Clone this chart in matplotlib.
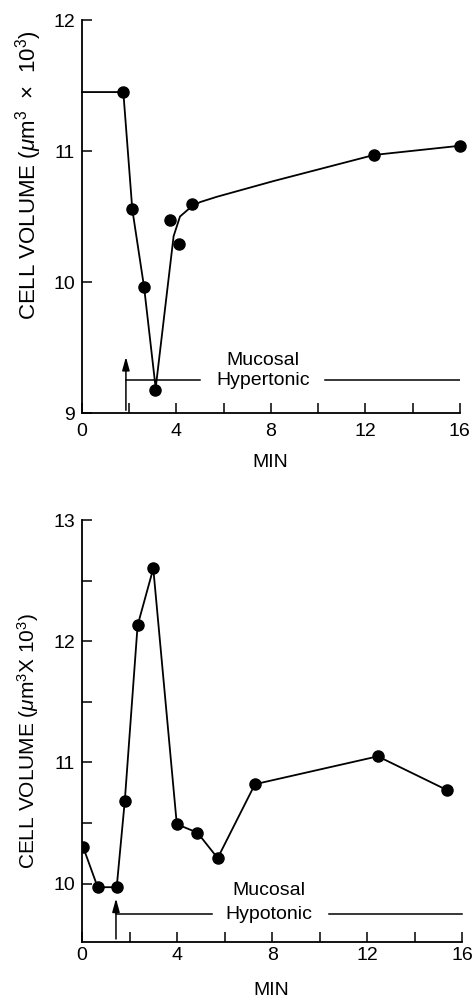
import matplotlib
matplotlib.use("Agg")
import matplotlib.pyplot as plt

plt.rcParams['font.family'] = ['Liberation Sans', 'DejaVu Sans']
plt.rcParams['mathtext.fontset'] = 'custom'
plt.rcParams['mathtext.rm'] = 'Liberation Sans'
plt.rcParams['mathtext.it'] = 'Liberation Sans:italic'

# top panel: mucosal hypertonic
hyper_t = [1.75, 2.13, 2.63, 3.1, 3.72, 4.12, 4.65, 12.37, 16.0]
hyper_v = [11.45, 10.555, 9.96, 9.175, 10.47, 10.29, 10.595, 10.97, 11.04]
# hand drawn fitted line through the top panel
fit_t = [0, 1.75, 2.13, 2.63, 3.12, 3.88, 4.15, 4.6, 5.0, 5.7, 8.1, 12.37, 16.0]
fit_v = [11.45, 11.45, 10.555, 9.96, 9.19, 10.35, 10.50, 10.57, 10.61, 10.65, 10.77, 10.97, 11.04]

# bottom panel: mucosal hypotonic
hypo_t = [0.05, 0.66, 1.46, 1.80, 2.34, 3.0, 3.99, 4.86, 5.71, 7.28, 12.45, 15.38]
hypo_v = [10.30, 9.97, 9.97, 10.68, 12.13, 12.60, 10.49, 10.42, 10.21, 10.82, 11.05, 10.77]

x_major = [0, 4, 8, 12, 16]
x_minor = [2, 6, 10, 14]

fig = plt.figure(figsize=(4.74, 10.01), dpi=100)
ax1 = fig.add_axes([0.173, 0.5874, 0.797, 0.3926])
ax2 = fig.add_axes([0.173, 0.0592, 0.802, 0.4213])

arrow_style = dict(arrowstyle='-|>,head_length=0.8,head_width=0.22', color='black', lw=1.1)


def style(ax, ylab, ysize, xpad):
    for s in ['top', 'right']:
        ax.spines[s].set_visible(False)
    for s in ['left', 'bottom']:
        ax.spines[s].set_linewidth(1.3)
    ax.set_xlim(0, 16)
    ax.set_xticks(x_major)
    ax.set_xticks(x_minor, minor=True)
    ax.tick_params(which='both', direction='in', length=7, width=1.1, labelsize=14)
    ax.tick_params(axis='x', which='both', pad=xpad)
    ax.tick_params(axis='y', which='both', pad=5)
    ax.set_xlabel("MIN", fontsize=14)
    ax.set_ylabel(ylab, fontsize=ysize)


style(ax1, r"CELL VOLUME ($\mathit{\mu}$m$^3$  $\times$  10$^3$)", 16, 7)
ax1.set_ylim(9, 12)
ax1.set_yticks([9, 10, 11, 12])
ax1.xaxis.set_label_coords(0.497, -0.104)
ax1.yaxis.set_label_coords(-0.101, 0.606)

ax1.plot(fit_t, fit_v, color='black', lw=1.3, clip_on=False)
ax1.plot(hyper_t, hyper_v, 'o', color='black', ms=8, clip_on=False)

ax1.annotate("", xy=(1.86, 9.45), xytext=(1.86, 9.0), arrowprops=arrow_style)
ax1.plot([1.86, 5.0], [9.25, 9.25], color='black', lw=1.1)
ax1.plot([10.3, 16.0], [9.25, 9.25], color='black', lw=1.1)
ax1.text(7.67, 9.40, "Mucosal", ha='center', va='center', fontsize=14)
ax1.text(7.67, 9.25, "Hypertonic", ha='center', va='center', fontsize=14)

style(ax2, r"CELL VOLUME ($\mathit{\mu}$m$^3$X 10$^3$)", 15, 3.5)
ax2.set_ylim(9.52, 13)
ax2.set_yticks([10, 11, 12, 13])
ax2.set_yticks([10.5, 11.5, 12.5], minor=True)
ax2.xaxis.set_label_coords(0.497, -0.096)
ax2.yaxis.set_label_coords(-0.108, 0.476)

ax2.plot(hypo_t, hypo_v, '-o', color='black', lw=1.3, ms=8)

ax2.annotate("", xy=(1.43, 9.9), xytext=(1.43, 9.52), arrowprops=arrow_style)
ax2.plot([1.43, 5.46], [9.745, 9.745], color='black', lw=1.1)
ax2.plot([10.4, 16.0], [9.745, 9.745], color='black', lw=1.1, clip_on=False)
ax2.text(7.85, 9.94, "Mucosal", ha='center', va='center', fontsize=14)
ax2.text(7.85, 9.745, "Hypotonic", ha='center', va='center', fontsize=14)

fig.savefig("out.png", dpi=100)
